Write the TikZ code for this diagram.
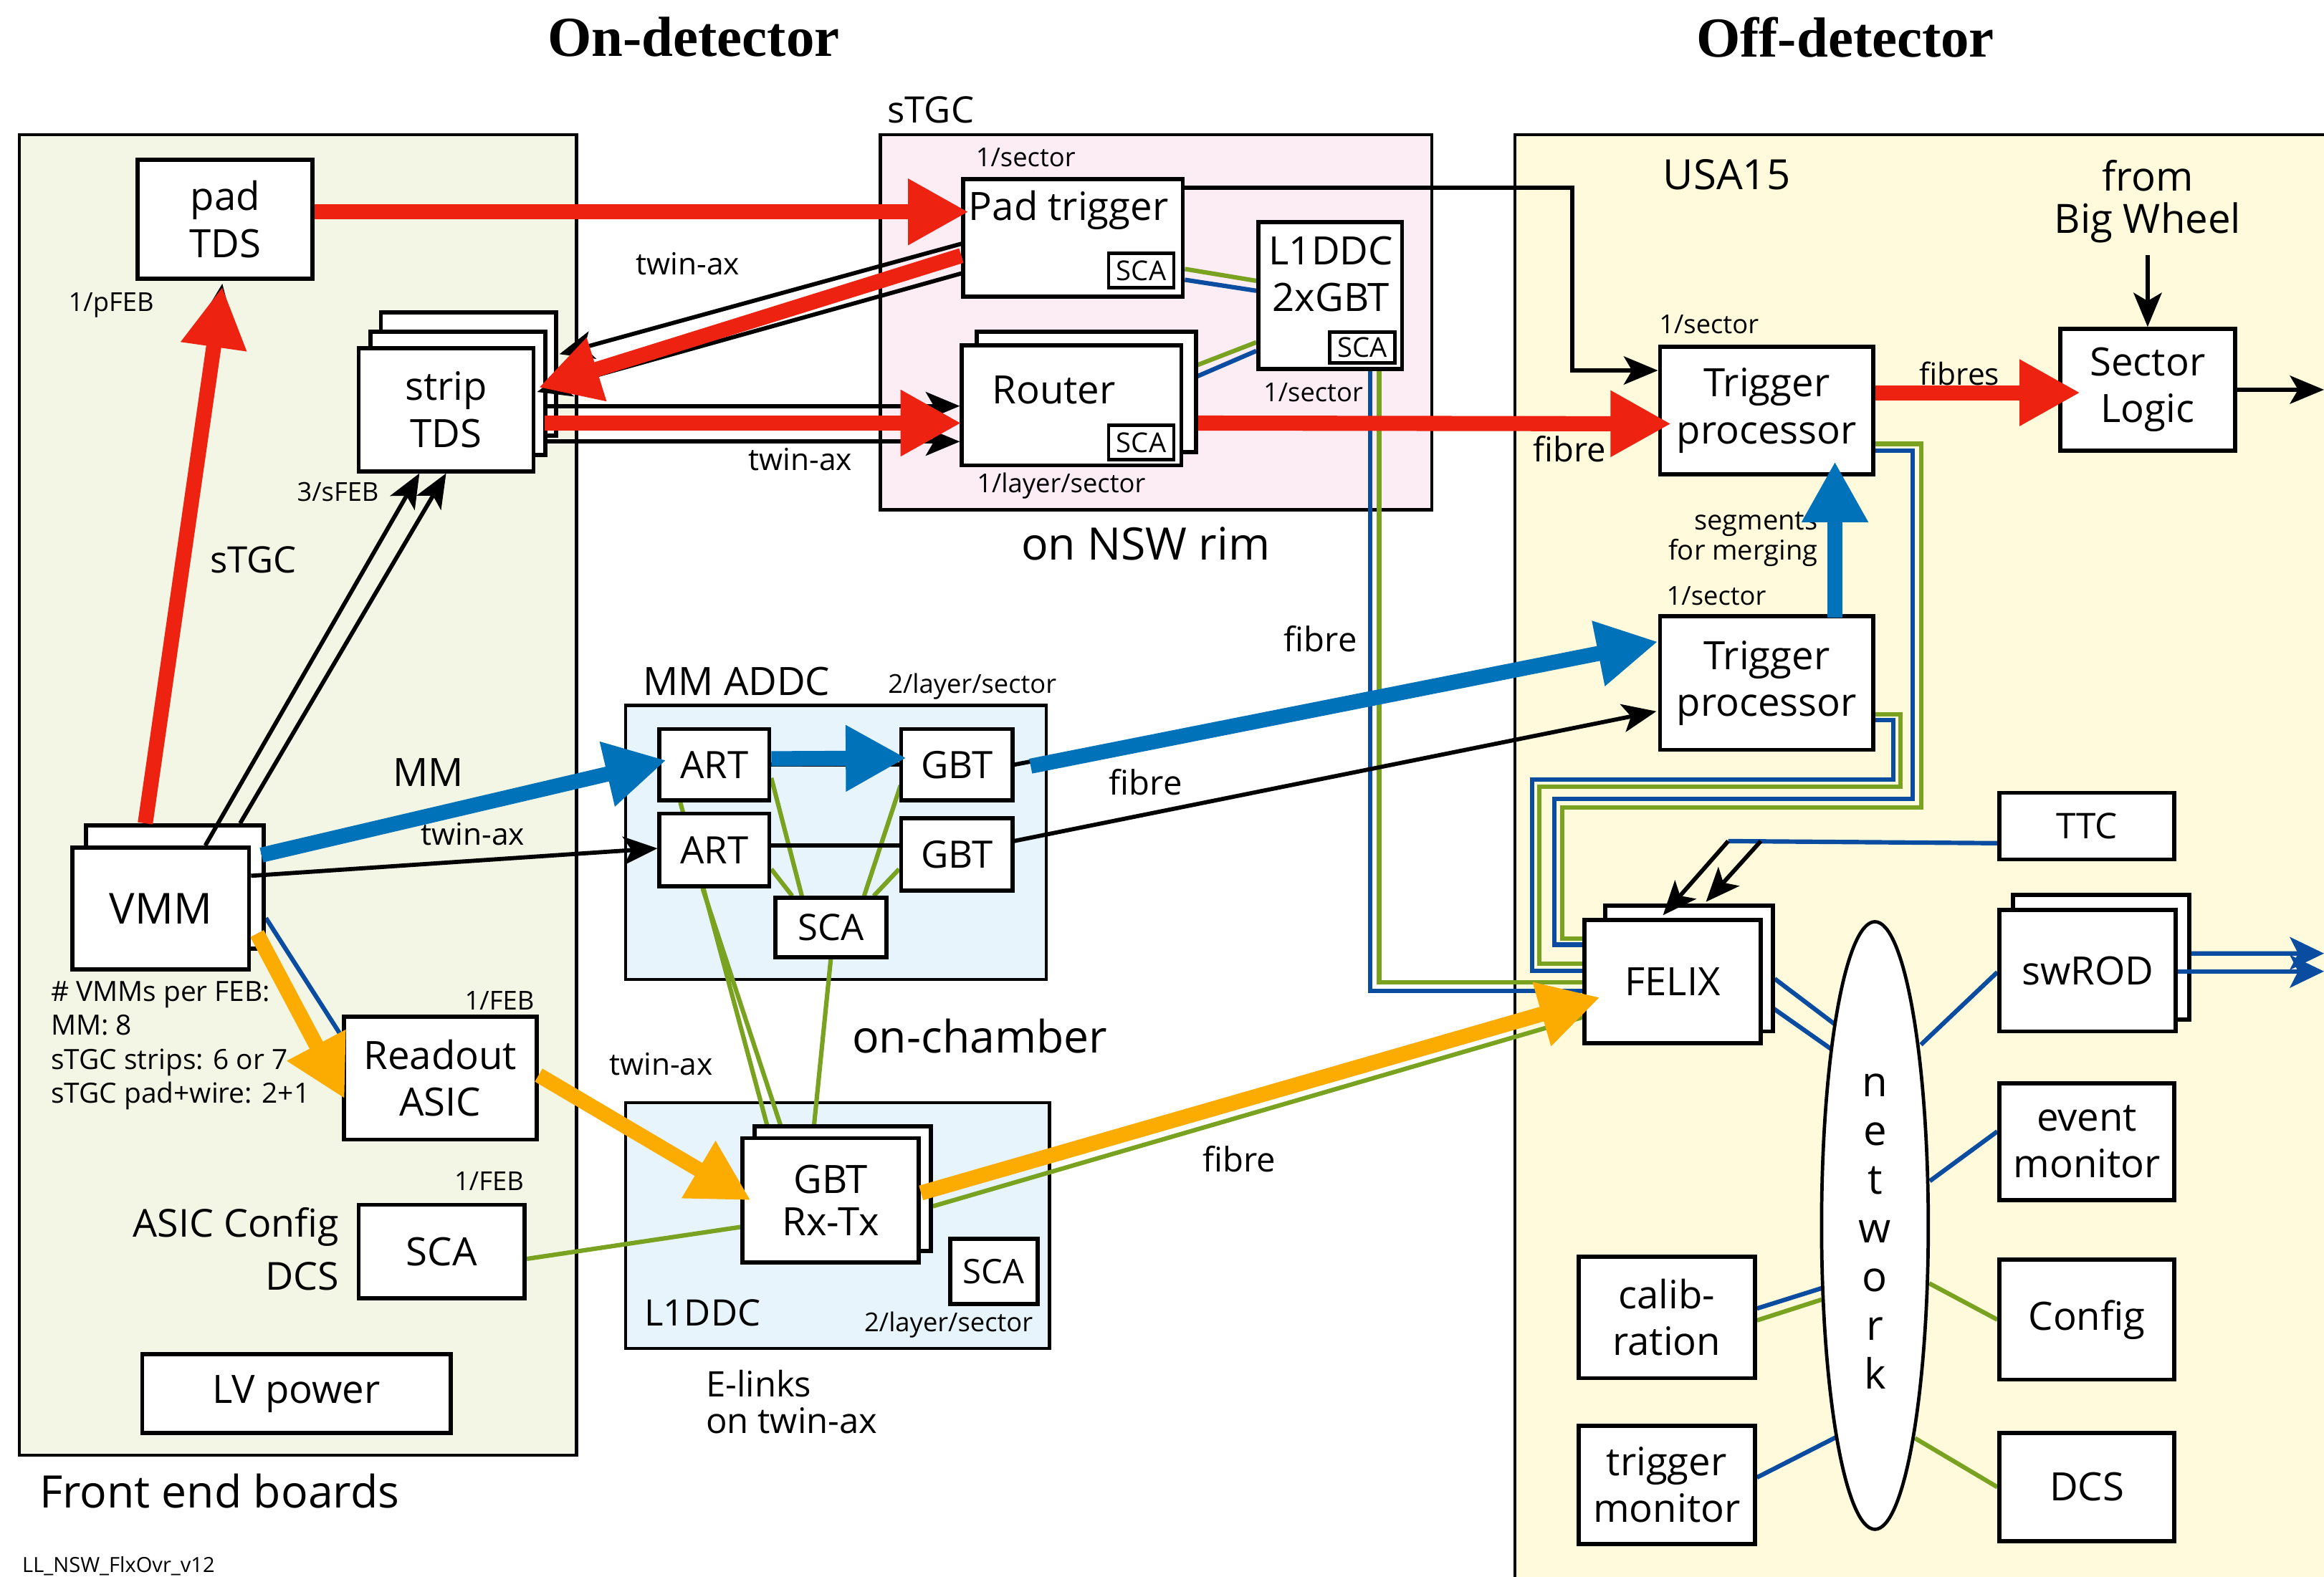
\documentclass[tikz,border=0pt]{standalone}
\usepackage{fontspec}
\setmainfont{Open Sans}
\newfontfamily\titlefont{Liberation Serif}
\usetikzlibrary{arrows.meta,calc,shapes.geometric}
\definecolor{febcol}{RGB}{243,246,229}
\definecolor{rimcol}{RGB}{252,236,244}
\definecolor{usacol}{RGB}{255,250,220}
\definecolor{addcol}{RGB}{231,244,252}
\definecolor{redc}{RGB}{237,34,17}
\definecolor{bluec}{RGB}{0,114,185}
\definecolor{orc}{RGB}{252,172,0}
\definecolor{dblue}{RGB}{10,76,160}
\definecolor{greenc}{RGB}{120,162,32}
\newcommand\myBx{\fontsize{15}{18}\selectfont}
\newcommand\myVmmF{\fontsize{16.4}{19}\selectfont}
\newcommand\mySm{\fontsize{10}{12}\selectfont}
\newcommand\mySca{\fontsize{10.5}{12}\selectfont}
\newcommand\myTw{\fontsize{11.7}{14}\selectfont}
\newcommand\myFi{\fontsize{13}{15}\selectfont}
\newcommand\myMid{\fontsize{14}{17}\selectfont}
\newcommand\myBig{\fontsize{17.2}{20}\selectfont}
\newcommand\myUsa{\fontsize{16}{19}\selectfont}
\newcommand\myBw{\fontsize{15.5}{16}\selectfont}
\newcommand\mySeg{\fontsize{10.5}{11.5}\selectfont}
\newcommand\myVm{\fontsize{10.7}{13}\selectfont}
\newcommand\myAc{\fontsize{14.8}{20.4}\selectfont}
\newcommand\myEl{\fontsize{13.5}{14.2}\selectfont}
\newcommand\myTiny{\fontsize{8}{9}\selectfont}
\newcommand\myNet{\fontsize{16}{18.7}\selectfont}
\newcommand\myTi{\fontsize{21.7}{26}\selectfont\titlefont\bfseries}
\newcommand\myAddc{\fontsize{14.5}{17}\selectfont}
\newcommand\myGbt{\fontsize{15}{16}\selectfont}
\pgfdeclarelayer{panels}
\pgfdeclarelayer{wires}
\pgfdeclarelayer{top}
\pgfsetlayers{panels,wires,main,top}
\tikzset{
  wh/.style 2 args={minimum width=#1*0.02cm, minimum height=#2*0.02cm},
  panel/.style={draw, line width=1.2pt, inner sep=0pt},
  box/.style={draw, fill=white, line width=1.6pt, inner sep=0pt, align=center, font=\myBx},
  sbox/.style={box, line width=1.3pt, font=\mySca},
  lbl/.style={inner sep=0pt, align=center},
  blk/.style={line width=1.6pt, -{Stealth[length=0.46cm,width=0.38cm,inset=0.11cm]}},
  blkline/.style={line width=1.6pt},
  fat/.style={line width=5.8pt, -{Triangle[length=0.82cm,width=0.84cm]}},
  redar/.style={fat, draw=redc},
  bluar/.style={fat, draw=bluec},
  orar/.style={fat, draw=orc},
  wb/.style={line width=1.7pt, draw=dblue},
  wg/.style={line width=1.7pt, draw=greenc},
}
\begin{document}
\begin{tikzpicture}[x=0.02cm,y=-0.02cm]
\useasboundingbox (0,0) rectangle (1568,1064);
\begin{pgfonlayer}{panels}
\fill[white] (0,0) rectangle (1568,1064);
\node[panel, fill=febcol, wh={376}{891}] (feb) at (201,536.5) {};
\node[panel, fill=rimcol, wh={372}{253}] (rim) at (780,217.5) {};
\node[panel, fill=usacol, wh={578}{1009}] (usa) at (1311,595.5) {};
\node[panel, fill=addcol, wh={284}{185}] (addc) at (564,568.5) {};
\node[panel, fill=addcol, wh={286}{166}] (l1p) at (565,827) {};
\end{pgfonlayer}

% ---------- boxes: front end boards
\node[box, wh={118}{80}] (padtds) at (152,148) {pad\\TDS};
\node[box, wh={118}{83}] (strip3) at (316,252.5) {};
\node[box, wh={118}{83}] (strip2) at (309,265.5) {};
\node[box, wh={118}{83}] (strip) at (301,276.5) {strip\\TDS};
\node[box, wh={120}{83}] (vmmb) at (118,598.5) {};
\node[box, wh={119}{82}, font=\myVmmF] (vmm) at (108.5,613) {VMM};
\node[box, wh={130}{83}] (rasic) at (297,727.5) {Readout\\ASIC};
\node[box, wh={112}{63}] (febsca) at (298,844.5) {SCA};
\node[box, wh={208}{53}] (lv) at (200,940.5) {LV power};

% ---------- sTGC rim
\node[box, wh={148}{79}] (padtrig) at (724,160.5) {};
\node[lbl, font=\myBx] (padtrigl) at (721,142) {Pad trigger};
\node[sbox, wh={44}{23}] (ptsca) at (770,182.5) {SCA};
\node[box, wh={148}{81}] (routerb) at (733,264.5) {};
\node[box, wh={148}{81}] (router) at (723,273.5) {};
\node[lbl, font=\myBx] (routerl) at (711,263) {Router};
\node[sbox, wh={44}{23}] (rtsca) at (770,298.5) {SCA};
\node[box, wh={97}{99}] (l1ddcg) at (897.5,199.5) {};
\node[lbl, font=\myBx] (l1ddcgl) at (898,185) {L1DDC\\2xGBT};
\node[sbox, wh={44}{21}] (lgsca) at (919,234.5) {SCA};

% ---------- MM ADDC
\node[box, wh={74}{48}, font=\myAddc] (art1) at (482,516) {ART};
\node[box, wh={74}{49}, font=\myAddc] (art2) at (482,573.5) {ART};
\node[box, wh={75}{48}, font=\myAddc] (gbt1) at (645.5,516) {GBT};
\node[box, wh={75}{49}, font=\myAddc] (gbt2) at (645.5,576.5) {GBT};
\node[box, wh={75}{40}, font=\myMid] (addcsca) at (560.5,626) {SCA};

% ---------- L1DDC
\node[box, wh={119}{84}] (gbtrxb) at (568.5,802) {};
\node[box, wh={119}{84}, font=\myGbt] (gbtrx) at (560.5,810) {GBT\\Rx-Tx};
\node[box, wh={59}{44}, font=\fontsize{13}{15}\selectfont] (l1sca) at (670.5,858) {SCA};

% ---------- USA15
\node[box, wh={144}{86}] (tp1) at (1192,277) {Trigger\\processor};
\node[box, wh={144}{90}] (tp2) at (1192,461) {Trigger\\processor};
\node[box, wh={118}{82}] (sl) at (1449,263) {Sector\\Logic};
\node[box, wh={118}{45}, font=\fontsize{13.6}{16}\selectfont] (ttc) at (1408,557.5) {TTC};
\node[box, wh={113}{85}] (felixb) at (1139.5,653.5) {};
\node[box, wh={119}{83}] (felix) at (1128.5,662.5) {FELIX};
\node[box, wh={119}{84}] (swrodb) at (1417.5,646) {};
\node[box, wh={119}{82}] (swrod) at (1408.5,655) {swROD};
\node[box, wh={118}{79}] (evm) at (1408,770.5) {event\\monitor};
\node[box, wh={118}{81}] (cfg) at (1408,890.5) {Config};
\node[box, wh={118}{73}] (dcs) at (1408,1003.5) {DCS};
\node[box, wh={119}{82}] (calib) at (1124.5,889) {calib-\\ration};
\node[box, wh={119}{80}] (tmon) at (1124.5,1002) {trigger\\monitor};
\node[draw, fill=white, ellipse, line width=1.3pt, inner sep=0pt, wh={72}{410}] (net) at (1265,827) {};
\node[lbl, font=\myNet] (lnet) at (1265,831) {n\\e\\t\\w\\o\\r\\k};

% ---------- labels
\node[lbl, font=\myTi] (ton) at (468,25) {On-detector};
\node[lbl, font=\myTi] (toff) at (1245,25) {Off-detector};
\node[lbl, font=\myMid] (lstgc) at (628,74) {sTGC};
\node[lbl, font=\mySm] (l1s) at (692,106) {1/sector};
\node[lbl, font=\mySm] (lpfeb) at (75,206) {1/pFEB};
\node[lbl, font=\mySm] (lsfeb) at (228,332) {3/sFEB};
\node[lbl, font=\myMid] (lstgc2) at (171,378) {sTGC};
\node[lbl, font=\myBx] (lmm) at (289,521) {MM};
\node[lbl, font=\myTw] (ltw1) at (319,563) {twin-ax};
\node[lbl, font=\myTw] (ltw2) at (464,178) {twin-ax};
\node[lbl, font=\myTw] (ltw3) at (540,310) {twin-ax};
\node[lbl, font=\myTw] (ltw4) at (446,718) {twin-ax};
\node[lbl, font=\mySm] (lrls) at (716,328) {1/layer/sector};
\node[lbl, font=\mySm] (ll1s) at (886,265) {1/sector};
\node[lbl, font=\myBig] (lrim) at (773,367) {on NSW rim};
\node[lbl, font=\myUsa] (lusa) at (1165,118) {USA15};
\node[lbl, font=\myBw] (frombw) at (1449,136) {from\\Big Wheel};
\node[lbl, font=\mySm] (ltp1) at (1153,219) {1/sector};
\node[lbl, font=\myTw] (lfibres) at (1322,252) {fibres};
\node[lbl, font=\myFi] (lfib1) at (1059,303) {fibre};
\node[lbl, font=\mySeg, align=right] (lseg) at (1176,364) {segments\\for merging};
\node[lbl, font=\mySm] (ltp2) at (1158,402) {1/sector};
\node[lbl, font=\myFi] (lfib2) at (891,431) {fibre};
\node[lbl, font=\myBx] (laddc) at (497,460) {MM ADDC};
\node[lbl, font=\mySm] (laddcn) at (656,463) {2/layer/sector};
\node[lbl, font=\myFi] (lfib3) at (773,528) {fibre};
\node[lbl, font=\myVm, align=left, anchor=north west] (lvmms) at (34,662) {\# VMMs per FEB:\\MM: 8\\sTGC strips: 6 or 7\\sTGC pad+wire: 2+1};
\node[lbl, font=\mySm] (lfeb1) at (337,675) {1/FEB};
\node[lbl, font=\mySm] (lfeb2) at (330,797) {1/FEB};
\node[lbl, font=\myBig] (lonch) at (661,699) {on-chamber};
\node[lbl, font=\myAc, align=right, anchor=east] (lasic) at (229,843) {ASIC Config\\DCS};
\node[lbl, font=\myFi] (lfib4) at (836,782) {fibre};
\node[lbl, font=\myMid] (ll1ddc) at (474,886) {L1DDC};
\node[lbl, font=\mySm] (ll1n) at (640,894) {2/layer/sector};
\node[lbl, font=\myEl, align=left, anchor=west] (lelinks) at (476,946) {E-links\\on twin-ax};
\node[lbl, font=\myBig] (lfebb) at (148,1006) {Front end boards};
\node[lbl, font=\myTiny] (lver) at (80,1057) {LL\_NSW\_FlxOvr\_v12};

\coordinate (slout) at (1568,263);
\coordinate (swout1) at (1568,643.4);
\coordinate (swout2) at (1568,655.5);

% ---------- thin wires (under boxes)
\begin{pgfonlayer}{wires}
\draw[wg] ($(febsca.east)+(0,5)$) -- ($(gbtrx.west)+(0,18)$);
\draw[wg] ($(art1.south)+(-23,0)$) -- ($(gbtrx.north)+(-41,0)$);
\draw[wg] ($(art2.south)+(-8,0)$) -- ($(gbtrx.north)+(-31.5,0)$);
\draw[wg] (addcsca.south) -- ($(gbtrx.north)+(-12,0)$);
\draw[wg] ($(art1.east)+(0,9)$) -- ($(addcsca.north)+(-19.5,0)$);
\draw[wg] ($(art2.east)+(0,13)$) -- ($(addcsca.north)+(-26,0)$);
\draw[wg] ($(gbt1.west)+(1,14)$) -- ($(addcsca.north)+(22.5,0)$);
\draw[wg] ($(gbt2.west)+(0,10)$) -- ($(addcsca.north)+(29,0)$);
\draw[wg] ($(padtrig.east)+(0,21)$) -- ($(l1ddcg.west)+(0,-10)$);
\draw[wb] ($(padtrig.east)+(0,28.3)$) -- ($(l1ddcg.west)+(0,-3.3)$);
\draw[wg] ($(router.east)+(0,-23.5)$) -- ($(l1ddcg.west)+(0,31.5)$);
\draw[wb] ($(router.east)+(0,-15.5)$) -- ($(l1ddcg.west)+(0,37.3)$);
\draw[wb] ($(l1ddcg.south)+(27,0)$) |- ($(felix.west)+(0,6)$);
\draw[wg] ($(l1ddcg.south)+(33,0)$) |- ($(felix.west)+(0,0.5)$);
\draw[wb] ($(tp1.east)+(0,27)$) -- ++(25,0) |- ($(felix.west)+(-19,-123.5)$) |- ($(felix.west)+(0,-25)$);
\draw[wg] ($(tp1.east)+(0,22.5)$) -- ++(31,0) |- ($(felix.west)+(-13.5,-117.5)$) |- ($(felix.west)+(0,-29)$);
\draw[wb] ($(tp2.east)+(0,25)$) -- ++(12,0) |- ($(felix.west)+(-34,-136.5)$) |- ($(felix.west)+(0,-7.5)$);
\draw[wg] ($(tp2.east)+(0,21)$) -- ++(17,0) |- ($(felix.west)+(-29,-131.5)$) |- ($(felix.west)+(0,-12)$);
\draw[wg] ($(gbtrxb.east)+(0,12)$) -- ($(felix.west)+(0,24)$);
\draw[wb] ($(vmmb.east)+(0,21)$) -- ($(rasic.west)+(0,-28)$);
\draw[wb] ($(felixb.east)+(0,7)$) -- ($(net.center)+(-26,-135)$);
\draw[wb] ($(felix.east)+(0,13)$) -- ($(net.center)+(-28,-118)$);
\draw[wb] ($(net.center)+(31,-122)$) -- ($(swrod.west)+(0,1)$);
\draw[wb] ($(net.center)+(37,-30)$) -- ($(evm.west)+(0,-7)$);
\draw[wg] ($(net.center)+(36.6,39)$) -- (cfg.west);
\draw[wg] ($(net.center)+(27,143.5)$) -- (dcs.west);
\draw[wb] ($(calib.east)+(0,-6)$) -- ($(net.center)+(-35,42)$);
\draw[wg] ($(calib.east)+(0,2)$) -- ($(net.center)+(-36,50)$);
\draw[wb] ($(tmon.east)+(0,-5)$) -- ($(net.center)+(-26.5,143)$);
\draw[wb] ($(ttc.west)+(0,11.5)$) -- ($(felixb.north)+(26.5,-42)$) coordinate (ttcsplit);
\end{pgfonlayer}

% ---------- black arrows and thick arrows (on top)
\begin{pgfonlayer}{top}
\draw[wb, -{Stealth[length=0.46cm,width=0.44cm,inset=0.11cm]}] ($(swrodb.east)+(0,-2.6)$) -- (swout1);
\draw[wb, -{Stealth[length=0.46cm,width=0.44cm,inset=0.11cm]}] ($(swrod.east)+(0,0.5)$) -- (swout2);
\draw[blk] ($(vmmb.north)+(-20,0)$) -- ($(padtds.south)+(-2,2)$);
\draw[blk] ($(padtrig.west)+(0,4)$) -- ($(strip3.east)+(1,-13.5)$);
\draw[blk] ($(padtrig.west)+(0,24)$) -- ($(strip.east)+(1,-12)$);
\draw[blk] ($(strip2.east)+(0,8.5)$) -- ($(router.west)+(0,0.5)$);
\draw[blk] ($(strip2.east)+(0,32.5)$) -- ($(router.west)+(0,24.5)$);
\draw[blk] ($(vmm.north)+(30,0)$) -- ($(strip.south)+(-18,0)$);
\draw[blk] ($(vmmb.north)+(44,0)$) -- (strip.south);
\draw[blk] ($(vmm.east)+(0,-22)$) -- ($(art2.west)+(0,-1)$);
\draw[blkline] ($(art2.east)+(0,-3)$) -- ($(gbt2.west)+(0,-6)$);
\draw[blk] ($(gbt2.east)+(0,-9)$) -- ($(tp2.west)+(-1,19)$);
\draw[blk] ($(padtrig.north east)+(0,7)$) -| ($(tp1.west)+(-58,-27)$) -- ($(tp1.west)+(0,-27)$);
\draw[blk] (sl.east) -- (slout);
\draw[blk] ($(frombw.south)+(0,8)$) -- (sl.north);
\draw[blk] (ttcsplit) -- ($(felix.north)+(-6.5,-2)$);
\draw[blk] ($(ttcsplit)+(22,0)$) -- ($(felixb.north)+(11.5,-1)$);
\draw[blk] ($(vmmb.east)+(-3,-21.5)$) -- ($(art1.west)+(0,-4)$);
\draw[blkline] (art1.east) -- (gbt1.west);
\draw[blkline] (gbt1.east) -- ($(tp2.west)+(-20,-24)$);
% red
\draw[redar] ($(padtds.east)+(0,-5)$) -- ($(padtrig.west)+(5,-17.5)$);
\draw[redar] ($(vmmb.north)+(-20,0)$) -- ($(padtds.south)+(-2,4)$);
\draw[redar] ($(padtrig.west)+(0,12)$) -- ($(strip.east)+(2,-15)$);
\draw[redar] ($(strip.east)+(6,9)$) -- ($(router.west)+(1,12)$);
\draw[redar] ($(routerb.east)+(0,21)$) -- ($(tp1.west)+(9,9)$);
\draw[redar] ($(tp1.east)+(0,-12)$) -- ($(sl.west)+(15,2)$);
% blue
\draw[bluar] ($(vmmb.east)+(-3,-21.5)$) -- ($(art1.west)+(6,-3)$);
\draw[bluar] ($(art1.east)+(0,-4)$) -- ($(gbt1.west)+(5,-4.5)$);
\draw[bluar] ($(gbt1.east)+(11,1)$) -- ($(tp2.west)+(0,-28)$);
\draw[bluar] ($(tp2.north)+(46,2)$) -- ($(tp1.south)+(46,-10)$);
% orange
\draw[orar] ($(vmm.east)+(4,17)$) -- ($(rasic.west)+(2,14)$);
\draw[orar] ($(rasic.east)+(0,-2)$) -- ($(gbtrx.west)+(7,0)$);
\draw[orar] ($(gbtrx.east)+(0,-5)$) -- ($(felix.west)+(12,10.5)$);
\end{pgfonlayer}
\end{tikzpicture}
\end{document}
